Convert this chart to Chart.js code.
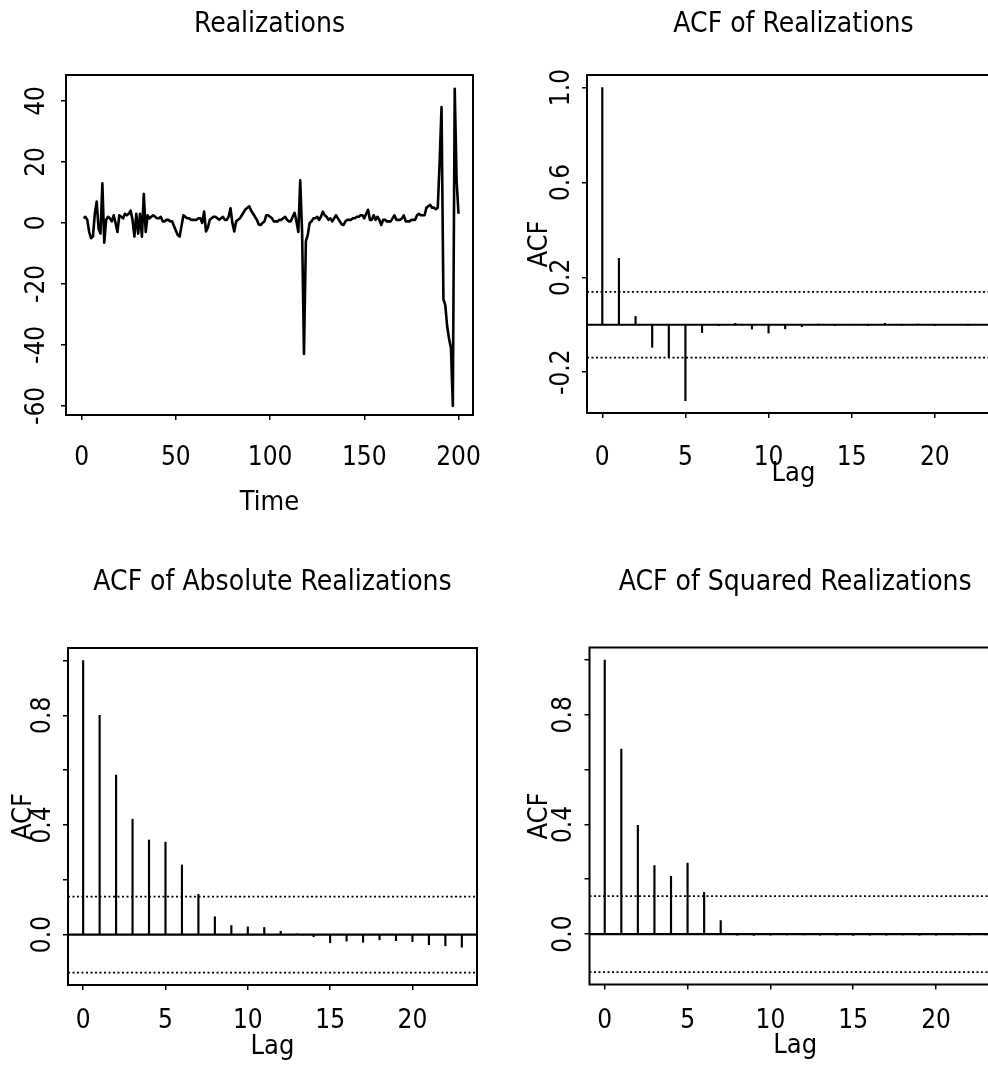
<!DOCTYPE html>
<html><head><meta charset="utf-8">
<script src="https://cdn.jsdelivr.net/npm/chart.js@4.4.1/dist/chart.umd.min.js"></script>
<style>
html,body{margin:0;padding:0;background:#fff;width:988px;height:1068px;overflow:hidden;position:relative}
canvas{position:absolute}
</style></head><body>
<canvas id="c1" width="494" height="534" style="left:0px;top:0px"></canvas>
<canvas id="c2" width="520" height="534" style="left:494px;top:0px"></canvas>
<canvas id="c3" width="494" height="534" style="left:0px;top:534px"></canvas>
<canvas id="c4" width="520" height="534" style="left:494px;top:534px"></canvas>
<script>
// ---------- data ----------
const panelTitles = ['Realizations', 'ACF of Realizations', 'ACF of Absolute Realizations', 'ACF of Squared Realizations'];
const timeStart = 1;
const realizations = [
  1.5, 2, 1, -3, -5, -4.5, 3, 7, -2, -3.5,
  13, -6.5, 1, 2, 1.5, 0.5, 2.5, 0, -3, 2.5,
  2, 1.5, 3, 2.5, 3, 4, 1, -4.5, 3, -3.5,
  3, -4.5, 9.5, -3, 2.5, 1.5, 2, 2.5, 2, 1.5,
  1.5, 2, 0.5, 0.5, 1, 1, 0.5, 0.5, -1, -2.5,
  -4, -4.5, -1, 2.5, 2, 1.5, 1.5, 1, 1, 1,
  1, 1.5, 1.5, 0, 3.7, -2.8, -1.5, 1, 1.5, 2,
  2, 1.5, 1, 1.5, 2, 1, 1, 2, 4.8, 0,
  -2.8, 0.5, 1, 1.5, 2.5, 3.5, 4.5, 5, 5.4, 4,
  3, 2, 1, -0.5, -0.7, 0, 0.5, 2.5, 2.5, 2,
  1.5, 0.5, 0.5, 0.5, 1, 1, 1.5, 2, 1, 0.5,
  0.5, 2, 3.3, 0.5, -3, 14, -3, -43, -6, -4,
  0, 0.5, 1.5, 1.5, 2, 1, 2, 3.7, 2.5, 2,
  1, 1.5, 0.5, 1.5, 2.5, 1.5, 0.5, -0.5, -0.7, 0.5,
  1, 1, 1, 1.5, 1.5, 2, 2, 2.5, 2.5, 1.5,
  3, 4.3, 1, 1, 2.5, 1, 2, 1, -0.7, 1,
  1, 0.5, 0.5, 0.5, 1.5, 2.5, 1, 1, 1, 1.5,
  2.5, 0.5, 0.5, 0.5, 1, 1, 1, 2.5, 3, 2.5,
  2.5, 2.5, 5, 5.5, 5.9, 5, 5, 4.5, 5, 20,
  38, -25, -27, -34, -38, -41, -60, 44, 14, 3
];
const lags = [0,1,2,3,4,5,6,7,8,9,10,11,12,13,14,15,16,17,18,19,20,21,22,23];
const acfRealizations = [1.0, 0.28, 0.035, -0.095, -0.137, -0.32, -0.033, -0.004, 0.006, -0.018, -0.035, -0.017, -0.008, 0.003, -0.003, 0.002, -0.004, 0.006, -0.002, 0.003, -0.003, 0.002, -0.002, 0.001];
const acfAbsolute = [1.0, 0.80, 0.582, 0.421, 0.345, 0.337, 0.254, 0.147, 0.065, 0.033, 0.028, 0.026, 0.012, 0.002, -0.008, -0.030, -0.024, -0.028, -0.019, -0.022, -0.026, -0.037, -0.041, -0.046];
const acfSquared = [1.0, 0.675, 0.397, 0.25, 0.211, 0.259, 0.152, 0.049, -0.004, -0.005, -0.004, -0.003, -0.003, -0.004, -0.004, -0.005, -0.004, -0.004, -0.003, -0.004, -0.004, -0.003, -0.003, -0.003];
const ciBound = 0.1386;
const timeTicks = [0, 50, 100, 150, 200];
const timeTickLabels = ['0', '50', '100', '150', '200'];
const lagTicks = [0, 5, 10, 15, 20];
const lagTickLabels = ['0', '5', '10', '15', '20'];
const realTicks = [-60, -40, -20, 0, 20, 40];
const realTickLabels = ['-60', '-40', '-20', '0', '20', '40'];
const acf1Ticks = [-0.2, 0.2, 0.6, 1.0];
const acf1TickLabels = ['-0.2', '0.2', '0.6', '1.0'];
const acf2Ticks = [0, 0.2, 0.4, 0.6, 0.8, 1.0];
const acf2TickLabels = ['0.0', '', '0.4', '', '0.8', ''];

// ---------- style ----------
const FONT = '"Liberation Sans Narrow","Arial Narrow","DejaVu Sans Condensed","Liberation Sans",sans-serif';
Chart.defaults.font.family = FONT;
Chart.defaults.color = '#000';
const TICK_SIZE = 26, AXT_SIZE = 27, MAIN_SIZE = 28;

const boxPlugin = {
  id: 'rbox',
  afterDraw(chart) {
    const {ctx, chartArea: a} = chart;
    ctx.save();
    ctx.strokeStyle = '#000';
    ctx.lineWidth = 2;
    ctx.strokeRect(a.left, a.top, a.right - a.left, a.bottom - a.top);
    ctx.restore();
  }
};

function xAxis(o) {
  return {
    type: 'linear', position: 'bottom', min: o.min, max: o.max, offset: false,
    afterBuildTicks: s => { s.ticks = o.ticks.map(v => ({value: v})); },
    afterFit: s => { s.height = o.height; s.paddingLeft = 0; s.paddingRight = 0; },
    ticks: { autoSkip: false, minRotation: 0, maxRotation: 0, padding: o.labelPad, font: {size: TICK_SIZE},
             callback: (v, i) => o.labels[i] },
    grid: { display: true, drawOnChartArea: false, drawTicks: true, tickLength: 5, color: '#000', lineWidth: 1.5, offset: false },
    border: { display: false },
    title: { display: true, text: o.title, font: {size: AXT_SIZE}, padding: {top: 0, bottom: o.titlePad} }
  };
}
function yAxis(o) {
  return {
    type: 'linear', position: 'left', min: o.min, max: o.max,
    afterBuildTicks: s => { s.ticks = o.ticks.map(v => ({value: v})); },
    afterFit: s => { s.width = o.width; s.paddingTop = 0; s.paddingBottom = 0; },
    ticks: { autoSkip: false, minRotation: 90, maxRotation: 90, crossAlign: 'center', padding: o.labelPad, font: {size: TICK_SIZE},
             callback: (v, i) => o.labels[i] },
    grid: { display: true, drawOnChartArea: false, drawTicks: true, tickLength: 5, color: '#000', lineWidth: 1.5 },
    border: { display: false },
    title: { display: !!o.title, text: o.title || '', font: {size: AXT_SIZE}, padding: {top: o.titlePad || 0, bottom: 0} }
  };
}
function plugins(title, pt, pb) {
  return {
    legend: {display: false}, tooltip: {enabled: false},
    title: { display: true, text: title, fullSize: false, font: {size: MAIN_SIZE, weight: 'normal'}, color: '#000', padding: {top: pt, bottom: pb} }
  };
}

// ---------- panel 1: time series ----------
new Chart(document.getElementById('c1'), {
  type: 'line',
  data: { datasets: [{
    data: realizations.map((v, i) => ({x: timeStart + i, y: v})),
    borderColor: '#000', borderWidth: 2.6, pointRadius: 0, tension: 0, borderJoinStyle: 'round', fill: false
  }]},
  options: {
    responsive: false, animation: false, devicePixelRatio: 1,
    layout: { padding: {left: 0, top: 0, right: 21, bottom: 0} },
    scales: {
      x: xAxis({min: -8.3, max: 207.7, ticks: timeTicks, labels: timeTickLabels, height: 119, labelPad: 22.4, title: 'Time', titlePad: 14.8}),
      y: yAxis({min: -63, max: 48.5, ticks: realTicks, labels: realTickLabels, width: 66, labelPad: 5})
    },
    plugins: plugins(panelTitles[0], 8.2, 33.2)
  },
  plugins: [boxPlugin]
});

// ---------- ACF panels ----------
function acfChart(id, title, values, yo, xo, tp, rightPad) {
  const lo = -0.92, hi = 23.92;
  new Chart(document.getElementById(id), {
    type: 'bar',
    data: { datasets: [
      { type: 'bar', data: lags.map((l, i) => ({x: l, y: values[i]})), backgroundColor: '#000', borderWidth: 0, barThickness: 1.5 },
      { type: 'line', data: [{x: lo, y: 0}, {x: hi, y: 0}], borderColor: '#000', borderWidth: 2.2, pointRadius: 0 },
      { type: 'line', data: [{x: lo, y: ciBound}, {x: hi, y: ciBound}], borderColor: '#000', borderWidth: 1.8, borderDash: [2, 2.5], pointRadius: 0 },
      { type: 'line', data: [{x: lo, y: -ciBound}, {x: hi, y: -ciBound}], borderColor: '#000', borderWidth: 1.8, borderDash: [2, 2.5], pointRadius: 0 }
    ]},
    options: {
      responsive: false, animation: false, devicePixelRatio: 1,
      layout: { padding: {left: 0, top: 0, right: rightPad, bottom: 0} },
      scales: {
        x: xAxis(Object.assign({min: lo, max: hi, ticks: lagTicks, labels: lagTickLabels, title: 'Lag'}, xo)),
        y: yAxis(Object.assign({title: 'ACF'}, yo))
      },
      plugins: plugins(title, tp[0], tp[1])
    },
    plugins: [boxPlugin]
  });
}

acfChart('c2', panelTitles[1], acfRealizations,
  {min: -0.372, max: 1.053, ticks: acf1Ticks, labels: acf1TickLabels, width: 93, labelPad: -3, titlePad: 29.3},
  {height: 121, labelPad: 24.4, titlePad: 43.8}, [8.2, 33.2], 14);
acfChart('c3', panelTitles[2], acfAbsolute,
  {min: -0.184, max: 1.0455, ticks: acf2Ticks, labels: acf2TickLabels, width: 68, labelPad: 1, titlePad: 7.8},
  {height: 83, labelPad: 15.9, titlePad: 5.3}, [32.2, 48.2], 17);
acfChart('c4', panelTitles[3], acfSquared,
  {min: -0.184, max: 1.0455, ticks: acf2Ticks, labels: acf2TickLabels, width: 95.5, labelPad: 2, titlePad: 29.8},
  {height: 83.5, labelPad: 15.9, titlePad: 6.3}, [32.2, 47.7], 13);
</script>
</body></html>
